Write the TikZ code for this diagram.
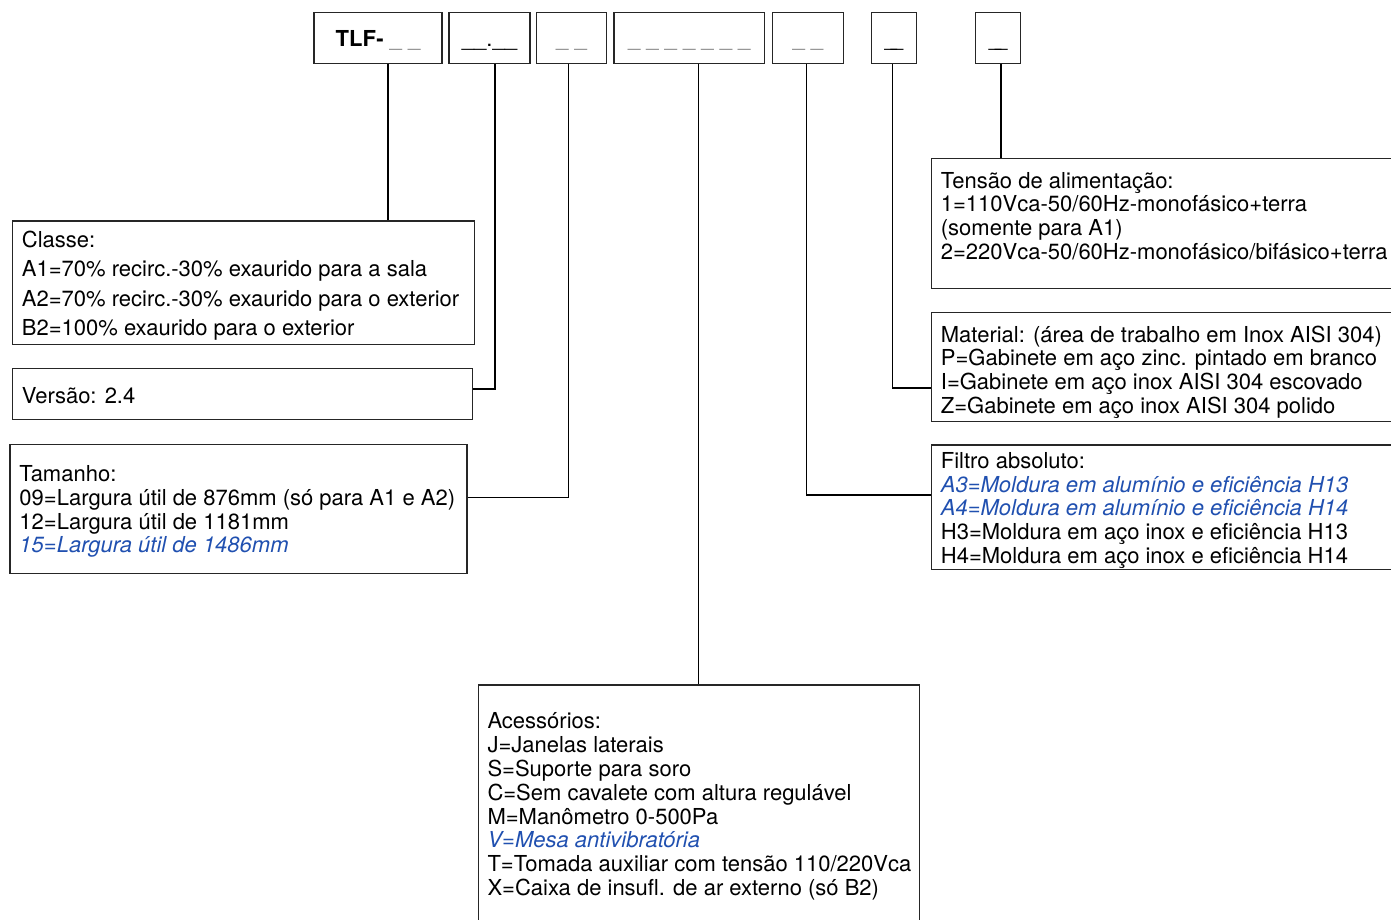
\documentclass[tikz,border=0pt]{standalone}
\usepackage{fontspec}
\setmainfont{TeX Gyre Heros}
\usepackage{xcolor}
\usetikzlibrary{positioning}
\definecolor{optblue}{HTML}{2050B0}
\definecolor{dashgray}{HTML}{8A8A8A}
\newcommand{\opt}[1]{{\color{optblue}\itshape #1}}

\begin{document}
\begin{tikzpicture}[x=1pt, y=-1pt,
  box/.style={draw=black!85, line width=1.3pt, inner sep=0},
  code/.style={box, text height=17, text depth=0, font=\fontsize{22}{24}\selectfont},
  txt/.style={anchor=base west, align=left, inner sep=0, font=\fontsize{22}{23.8}\selectfont},
  lnk/.style={line width=1.3pt}]
\useasboundingbox (0,0) rectangle (1391,919);
\clip (0,0) rectangle (1391,919);
% code fields on top
\node[code, minimum width=128, minimum height=50.6] (tlf) at (378,38) {\textbf{TLF-} \textcolor{dashgray}{\_ \_}};
\node[code, minimum width=81, minimum height=50.6] (ver) at (489.5,38) {\_\_.\_\_};
\node[code, minimum width=70, minimum height=50.6] (tam) at (571.5,38) {\textcolor{dashgray}{\_ \_}};
\node[code, minimum width=150.5, minimum height=50.6] (acc) at (689.2,38) {\textcolor{dashgray}{\_ \_ \_ \_ \_ \_ \_}};
\node[code, minimum width=71, minimum height=50.6] (fil) at (807.8,38) {\textcolor{dashgray}{\_ \_}};
\node[code, minimum width=45, minimum height=50.6] (mat) at (893.8,38) {\_\hspace{-6pt}\_};
\node[code, minimum width=44.6, minimum height=50.6] (ten) at (998,38) {\_\hspace{-6pt}\_};

% description boxes
\node[box, minimum width=461.6, minimum height=123.3] (classe) at (243.5,282.7) {};
\node[box, minimum width=459.6, minimum height=51] (versao) at (242.5,393.8) {};
\node[box, minimum width=457, minimum height=129] (tamanho) at (238.5,508.8) {};
\node[box, minimum width=441, minimum height=275] (acess) at (698.8,822.5) {};
\node[box, minimum width=488.3, minimum height=130] (tensao) at (1175.9,223.3) {};
\node[box, minimum width=488.3, minimum height=109] (material) at (1175.9,367.2) {};
\node[box, minimum width=488.3, minimum height=124.3] (filtro) at (1175.9,507.2) {};

% texts (placed at the baseline of their last line)
\node[txt, font=\fontsize{22}{29.4}\selectfont] (classetxt) at (21.7,335.5) {Classe:\\
A1=70\% recirc.-30\% exaurido para a sala\\
A2=70\% recirc.-30\% exaurido para o exterior\\
B2=100\% exaurido para o exterior};
\node[txt] (versaotxt) at (21.7,403.3) {Versão: 2.4};
\node[txt] (tamanhotxt) at (19.3,552.8) {Tamanho:\\
09=Largura útil de 876mm (só para A1 e A2)\\
12=Largura útil de 1181mm\\
\opt{15=Largura útil de 1486mm}};
\node[txt] (acesstxt) at (487.3,895.5) {Acessórios:\\
J=Janelas laterais\\
S=Suporte para soro\\
C=Sem cavalete com altura regulável\\
M=Manômetro 0-500Pa\\
\opt{V=Mesa antivibratória}\\
T=Tomada auxiliar com tensão 110/220Vca\\
X=Caixa de insufl. de ar externo (só B2)};
\node[txt] (tensaotxt) at (940.7,259.4) {Tensão de alimentação:\\
1=110Vca-50/60Hz-monofásico+terra\\
(somente para A1)\\
2=220Vca-50/60Hz-monofásico/bifásico+terra};
\node[txt] (materialtxt) at (940.7,413.4) {Material: (área de trabalho em Inox AISI 304)\\
P=Gabinete em aço zinc. pintado em branco\\
I=Gabinete em aço inox AISI 304 escovado\\
Z=Gabinete em aço inox AISI 304 polido};
\node[txt] (filtrotxt) at (940.7,563.5) {Filtro absoluto:\\
\opt{A3=Moldura em alumínio e eficiência H13}\\
\opt{A4=Moldura em alumínio e eficiência H14}\\
H3=Moldura em aço inox e eficiência H13\\
H4=Moldura em aço inox e eficiência H14};

% links
\draw[lnk] (tlf.south -| 388,0) -- (classe.north -| 388,0);
\draw[lnk] (ver.south -| 495,0) |- (versao.east |- 0,389);
\draw[lnk] (tam.south -| 568.3,0) |- (tamanho.east |- 0,497.3);
\draw[lnk] (acc.south -| 698.3,0) -- (acess.north -| 698.3,0);
\draw[lnk] (fil.south -| 806.7,0) |- (filtro.west |- 0,495);
\draw[lnk] (mat.south -| 892.3,0) |- (material.west |- 0,388);
\draw[lnk] (ten.south -| 1001,0) -- (tensao.north -| 1001,0);
\end{tikzpicture}
\end{document}
